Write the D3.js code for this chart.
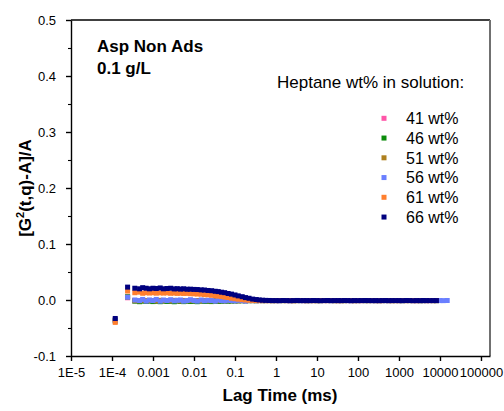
<!DOCTYPE html>
<html>
<head>
<meta charset="utf-8">
<script src="https://cdn.jsdelivr.net/npm/d3@7"></script>
<style>
  html, body { margin: 0; padding: 0; background: #fff; }
  svg { display: block; font-family: "Liberation Sans", Arial, sans-serif; }
</style>
</head>
<body>
<svg id="chart" width="504" height="411"></svg>
<script>
// Lag times (ms) shared by all runs; the 56 wt% run carries three extra points.
const lagTime = [
  1.2e-4, 2.4e-4, 3.6e-4, 4.7e-4, 5.6e-4, 6.8e-4, 8.2e-4,
  0.001, 0.0012, 0.0015, 0.0018, 0.0022, 0.0027, 0.0033, 0.0039, 0.0047, 0.0056, 0.0068, 0.0082,
  0.01, 0.012, 0.015, 0.018, 0.022, 0.027, 0.033, 0.039, 0.047, 0.056, 0.068, 0.082,
  0.1, 0.12, 0.15, 0.18, 0.22, 0.27, 0.33, 0.39, 0.47, 0.56, 0.68, 0.82,
  1, 1.2, 1.5, 1.8, 2.2, 2.7, 3.3, 3.9, 4.7, 5.6, 6.8, 8.2,
  10, 12, 15, 18, 22, 27, 33, 39, 47, 56, 68, 82,
  100, 120, 150, 180, 220, 270, 330, 390, 470, 560, 680, 820,
  1000, 1200, 1500, 1800, 2200, 2700, 3300, 3900, 4700, 5600, 6800, 8200,
  10000, 12000, 15000
];

// Normalised correlation [G2(t,q)-A]/A for each heptane content
const wt41 = [
  -0.035, 0.004, -0.0015, -0.002, -0.001, -0.0018, -0.0012,
  -0.0015, -0.002, -0.001, -0.0017, -0.0013, -0.002, -0.0011, -0.0016, -0.0019, -0.0012, -0.0015, -0.0018,
  -0.0014, -0.0017, -0.0012, -0.0016, -0.0019, -0.0013, -0.0015, -0.0017, -0.0012, -0.0016, -0.0014, -0.0013,
  -0.0012, -0.0014, -0.0011, -0.0012, -0.0010, -0.0011, -0.0010, -0.0011, -0.0009, -0.0010, -0.0011, -0.0010,
  -0.0010, -0.0011, -0.0009, -0.0010, -0.0011, -0.0010, -0.0010, -0.0009, -0.0011, -0.0010, -0.0010, -0.0011,
  -0.0010, -0.0009, -0.0010, -0.0011, -0.0010, -0.0010, -0.0011, -0.0009, -0.0010, -0.0010, -0.0011, -0.0010,
  -0.0010, -0.0011, -0.0010, -0.0009, -0.0010, -0.0011, -0.0010, -0.0010, -0.0009, -0.0011, -0.0010, -0.0010,
  -0.0011, -0.0010, -0.0010, -0.0009, -0.0010, -0.0011, -0.0010, -0.0010, -0.0011, -0.0010, -0.0009, -0.0010
];
const wt46 = [
  -0.036, 0.006, -0.002, -0.003, -0.002, -0.0025, -0.002,
  -0.0028, -0.0022, -0.0030, -0.0019, -0.0026, -0.0023, -0.0031, -0.0020, -0.0025, -0.0029, -0.0021, -0.0027,
  -0.0024, -0.0030, -0.0021, -0.0026, -0.0023, -0.0028, -0.0020, -0.0025, -0.0022, -0.0019, -0.0021, -0.0018,
  -0.0017, -0.0015, -0.0014, -0.0013, -0.0012, -0.0011, -0.0012, -0.0010, -0.0011, -0.0010, -0.0010, -0.0011,
  -0.0010, -0.0010, -0.0011, -0.0009, -0.0010, -0.0011, -0.0010, -0.0010, -0.0009, -0.0011, -0.0010, -0.0010,
  -0.0011, -0.0010, -0.0009, -0.0010, -0.0010, -0.0011, -0.0010, -0.0010, -0.0011, -0.0009, -0.0010, -0.0010,
  -0.0010, -0.0009, -0.0011, -0.0010, -0.0010, -0.0011, -0.0010, -0.0009, -0.0010, -0.0010, -0.0011, -0.0010,
  -0.0010, -0.0011, -0.0010, -0.0010, -0.0009, -0.0010, -0.0011, -0.0010, -0.0010, -0.0009, -0.0010, -0.0011
];
const wt51 = [
  -0.038, 0.005, -0.001, -0.0015, -0.0005, -0.0012, -0.0008,
  -0.0010, -0.0015, -0.0006, -0.0012, -0.0009, -0.0014, -0.0007, -0.0011, -0.0016, -0.0008, -0.0012, -0.0010,
  -0.0013, -0.0009, -0.0015, -0.0007, -0.0011, -0.0014, -0.0008, -0.0012, -0.0010, -0.0013, -0.0009, -0.0011,
  -0.0010, -0.0012, -0.0009, -0.0011, -0.0010, -0.0010, -0.0011, -0.0009, -0.0010, -0.0011, -0.0010, -0.0010,
  -0.0011, -0.0010, -0.0009, -0.0010, -0.0010, -0.0011, -0.0010, -0.0009, -0.0010, -0.0011, -0.0010, -0.0010,
  -0.0010, -0.0011, -0.0010, -0.0010, -0.0009, -0.0010, -0.0011, -0.0010, -0.0010, -0.0010, -0.0009, -0.0011,
  -0.0010, -0.0010, -0.0011, -0.0010, -0.0009, -0.0010, -0.0010, -0.0011, -0.0010, -0.0010, -0.0009, -0.0010,
  -0.0011, -0.0010, -0.0010, -0.0009, -0.0011, -0.0010, -0.0010, -0.0011, -0.0010, -0.0009, -0.0010, -0.0010
];
const wt56 = [
  -0.037, 0.005, 0.0, -0.001, 0.001, -0.002, 0.0,
  -0.001, 0.001, -0.002, 0.0, -0.001, 0.0005, -0.0015, -0.0005, 0.0, -0.002, -0.001, 0.0005,
  -0.001, -0.002, 0.0, -0.0015, -0.0005, -0.001, -0.002, 0.0, -0.001, -0.0015, -0.0005, -0.001,
  -0.0015, -0.0005, -0.001, -0.002, -0.001, -0.0005, -0.0012, -0.0009, -0.0011, -0.0010, -0.0008, -0.0011,
  -0.0010, -0.0012, -0.0009, -0.0010, -0.0011, -0.0010, -0.0008, -0.0010, -0.0011, -0.0012, -0.0010, -0.0009,
  -0.0010, -0.0011, -0.0010, -0.0009, -0.0012, -0.0010, -0.0010, -0.0011, -0.0009, -0.0010, -0.0011, -0.0010,
  -0.0009, -0.0010, -0.0011, -0.0010, -0.0010, -0.0012, -0.0009, -0.0010, -0.0011, -0.0010, -0.0010, -0.0009,
  -0.0010, -0.0011, -0.0010, -0.0009, -0.0010, -0.0011, -0.0010, -0.0012, -0.0010, -0.0009, -0.0011, -0.0010,
  -0.0010, -0.0011, -0.0009
];
const wt61 = [
  -0.040, 0.016, 0.013, 0.014, 0.012, 0.013, 0.0125,
  0.0130, 0.0122, 0.0128, 0.0124, 0.0127, 0.0120, 0.0124, 0.0118, 0.0121, 0.0117, 0.0118, 0.0113,
  0.0111, 0.0107, 0.0104, 0.0097, 0.0093, 0.0084, 0.0078, 0.0069, 0.0063, 0.0052, 0.0044, 0.0032,
  0.0024, 0.0015, 0.0006, 0.0001, -0.0004, -0.0007, -0.0009, -0.0010, -0.0011, -0.0010, -0.0010, -0.0011,
  -0.0010, -0.0009, -0.0011, -0.0010, -0.0010, -0.0012, -0.0010, -0.0009, -0.0010, -0.0011, -0.0010, -0.0010,
  -0.0011, -0.0010, -0.0010, -0.0009, -0.0010, -0.0011, -0.0010, -0.0012, -0.0010, -0.0009, -0.0010, -0.0011,
  -0.0010, -0.0010, -0.0009, -0.0011, -0.0010, -0.0010, -0.0011, -0.0010, -0.0009, -0.0010, -0.0012, -0.0010,
  -0.0010, -0.0009, -0.0011, -0.0010, -0.0010, -0.0011, -0.0010, -0.0009, -0.0010, -0.0010, -0.0011, -0.0010
];
const wt66 = [
  -0.033, 0.023, 0.021, 0.020, 0.022, 0.021, 0.020,
  0.0210, 0.0205, 0.0215, 0.0200, 0.0205, 0.0210, 0.0198, 0.0202, 0.0195, 0.0200, 0.0192, 0.0193,
  0.0189, 0.0187, 0.0181, 0.0178, 0.0170, 0.0166, 0.0156, 0.0150, 0.0139, 0.0131, 0.0116, 0.0105,
  0.0090, 0.0074, 0.0059, 0.0043, 0.0031, 0.0016, 0.0008, 0.0001, -0.0004, -0.0007, -0.0009, -0.0010,
  -0.0010, -0.0011, -0.0009, -0.0010, -0.0012, -0.0010, -0.0009, -0.0011, -0.0010, -0.0010, -0.0011, -0.0009,
  -0.0010, -0.0012, -0.0010, -0.0009, -0.0011, -0.0010, -0.0010, -0.0011, -0.0009, -0.0010, -0.0012, -0.0010,
  -0.0011, -0.0010, -0.0009, -0.0010, -0.0011, -0.0010, -0.0012, -0.0010, -0.0009, -0.0011, -0.0010, -0.0010,
  -0.0010, -0.0011, -0.0009, -0.0010, -0.0012, -0.0010, -0.0011, -0.0009, -0.0010, -0.0011, -0.0010, -0.0010
];

const seriesNames = ["41 wt%", "46 wt%", "51 wt%", "56 wt%", "61 wt%", "66 wt%"];
const seriesValues = [wt41, wt46, wt51, wt56, wt61, wt66];
const seriesColors = ["#ff55a8", "#0b8c0b", "#ae801f", "#6a7fff", "#ff7f2e", "#00007f"];

const xTickValues = [1e-5, 1e-4, 1e-3, 1e-2, 1e-1, 1, 10, 100, 1000, 10000, 100000];
const xTickLabels = ["1E-5", "1E-4", "0.001", "0.01", "0.1", "1", "10", "100", "1000", "10000", "100000"];
const yTickValues = [-0.1, 0.0, 0.1, 0.2, 0.3, 0.4, 0.5];
const yTickLabels = ["-0.1", "0.0", "0.1", "0.2", "0.3", "0.4", "0.5"];
const yMinorValues = [-0.05, 0.05, 0.15, 0.25, 0.35, 0.45];

const svg = d3.select("#chart");
const plot = { left: 71, right: 490, top: 20, bottom: 356 };

const x = d3.scaleLog().domain([1e-5, 1.66e5]).range([plot.left, plot.right]);
const y = d3.scaleLinear().domain([-0.1, 0.5]).range([plot.bottom, plot.top]);

// Frame: top edge and right edge
svg.append("line")
  .attr("x1", plot.left).attr("x2", plot.right)
  .attr("y1", plot.top).attr("y2", plot.top)
  .attr("stroke", "#000").attr("stroke-width", 1.4);
svg.append("line")
  .attr("x1", plot.right).attr("x2", plot.right)
  .attr("y1", plot.top).attr("y2", plot.bottom)
  .attr("stroke", "#707070").attr("stroke-width", 2);

// Minor ticks
const xMinor = x.ticks().filter(v => !xTickValues.some(m => Math.abs(Math.log10(v) - Math.log10(m)) < 1e-6));
const xMinorAxis = d3.axisBottom(x).tickValues(xMinor).tickSize(3).tickSizeOuter(0).tickFormat("");
svg.append("g").attr("transform", `translate(0,${plot.bottom})`).call(xMinorAxis)
  .call(g => g.select(".domain").remove())
  .call(g => g.selectAll("line").attr("stroke", "#000").attr("stroke-width", 1.1));

const yMinorAxis = d3.axisLeft(y).tickValues(yMinorValues).tickSize(3).tickSizeOuter(0).tickFormat("");
svg.append("g").attr("transform", `translate(${plot.left},0)`).call(yMinorAxis)
  .call(g => g.select(".domain").remove())
  .call(g => g.selectAll("line").attr("stroke", "#000").attr("stroke-width", 1.1));

// Major axes
const xAxis = d3.axisBottom(x).tickValues(xTickValues)
  .tickFormat((d, i) => xTickLabels[i]).tickSize(5).tickSizeOuter(0).tickPadding(7);
svg.append("g").attr("transform", `translate(0,${plot.bottom})`).call(xAxis)
  .call(g => g.selectAll("line, .domain").attr("stroke", "#000").attr("stroke-width", 1.4))
  .call(g => g.selectAll("text").attr("font-size", 13).attr("fill", "#000")
    .attr("font-family", "Liberation Sans, Arial, sans-serif"));

const yAxis = d3.axisLeft(y).tickValues(yTickValues)
  .tickFormat((d, i) => yTickLabels[i]).tickSize(5).tickSizeOuter(0).tickPadding(10);
svg.append("g").attr("transform", `translate(${plot.left},0)`).call(yAxis)
  .call(g => g.selectAll("line, .domain").attr("stroke", "#000").attr("stroke-width", 1.4))
  .call(g => g.selectAll("text").attr("font-size", 13).attr("fill", "#000")
    .attr("font-family", "Liberation Sans, Arial, sans-serif"));

// Data markers, drawn in legend order so the 66 wt% run lies on top
const markerSize = 5;
seriesValues.forEach((vals, si) => {
  svg.append("g").attr("fill", seriesColors[si])
    .selectAll("rect")
    .data(vals.map((v, i) => ({ t: lagTime[i], v })))
    .join("rect")
    .attr("x", d => x(d.t) - markerSize / 2)
    .attr("y", d => y(d.v) - markerSize / 2)
    .attr("width", markerSize)
    .attr("height", markerSize);
});

// Axis titles
svg.append("text")
  .attr("x", 280).attr("y", 401)
  .attr("text-anchor", "middle")
  .attr("font-size", 17).attr("font-weight", "bold")
  .text("Lag Time (ms)");

const yTitle = svg.append("text")
  .attr("transform", `translate(31,${(plot.top + plot.bottom) / 2}) rotate(-90)`)
  .attr("text-anchor", "middle")
  .attr("font-size", 17).attr("font-weight", "bold");
yTitle.append("tspan").text("[G");
yTitle.append("tspan").attr("font-size", 11).attr("dy", -7).text("2");
yTitle.append("tspan").attr("dy", 7).text("(t,q)-A]/A");

// Sample annotation
svg.append("text").attr("x", 97).attr("y", 52)
  .attr("font-size", 17).attr("font-weight", "bold").text("Asp Non Ads");
svg.append("text").attr("x", 97).attr("y", 74)
  .attr("font-size", 17).attr("font-weight", "bold").text("0.1 g/L");

// Legend
svg.append("text").attr("x", 277).attr("y", 88)
  .attr("font-size", 17).text("Heptane wt% in solution:");
const legend = svg.append("g");
seriesNames.forEach((name, i) => {
  const cy = 118.3 + i * 19.75;
  legend.append("rect")
    .attr("x", 384 - 2.5).attr("y", cy - 2.5)
    .attr("width", 5).attr("height", 5)
    .attr("fill", seriesColors[i]);
  legend.append("text")
    .attr("x", 406).attr("y", cy + 5.7)
    .attr("font-size", 16).text(name);
});
</script>
</body>
</html>
